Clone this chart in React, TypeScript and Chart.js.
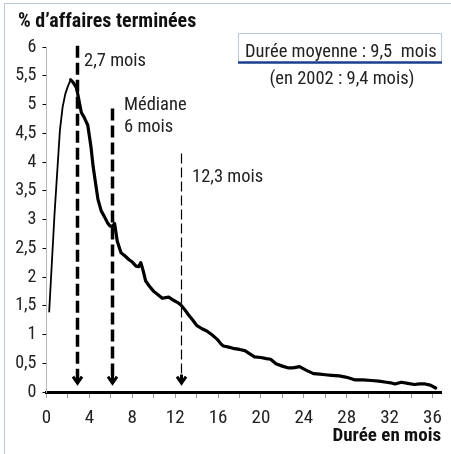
import React, { useEffect, useRef } from "react";
import { Chart, registerables } from "chart.js";

Chart.register(...registerables);

// Durée (mois) et % d'affaires terminées
const months: number[] = [
  0.25, 0.75, 1.25, 1.5, 1.75, 2.0, 2.25, 2.5, 2.8, 3.0, 3.25, 3.5, 3.85, 4.15, 4.35, 4.6, 4.8,
  5.1, 5.4, 5.7, 5.9, 6.15, 6.35, 6.6, 6.95, 7.3, 7.7, 8.0, 8.35, 8.6, 8.8, 9.0, 9.25, 9.6,
  10.0, 10.4, 10.8, 11.1, 11.4, 11.8, 12.2, 12.5, 12.9, 13.25, 13.6, 14.0, 14.5, 14.95, 15.4,
  15.9, 16.3, 16.5, 17.0, 17.4, 18.0, 18.5, 19.0, 19.4, 20.0, 20.5, 20.9, 21.4, 22.0, 22.5,
  23.0, 23.6, 24.2, 24.9, 25.5, 26.0, 26.6, 27.3, 27.9, 28.3, 28.8, 29.5, 30.3, 31.0, 31.7,
  32.1, 32.5, 33.1, 33.7, 34.3, 34.8, 35.3, 35.8, 36.3,
];
const shares: number[] = [
  1.4, 3.1, 4.55, 4.95, 5.18, 5.32, 5.43, 5.38, 5.29, 5.1, 4.86, 4.78, 4.64, 4.26, 3.92, 3.6, 3.35,
  3.15, 3.05, 2.94, 2.89, 2.88, 2.93, 2.62, 2.42, 2.37, 2.3, 2.26, 2.19, 2.18, 2.25, 2.12, 1.93, 1.84,
  1.75, 1.69, 1.63, 1.64, 1.65, 1.6, 1.56, 1.52, 1.43, 1.34, 1.26, 1.16, 1.1, 1.06, 1.0,
  0.92, 0.83, 0.8, 0.78, 0.76, 0.74, 0.72, 0.66, 0.61, 0.6, 0.58, 0.57, 0.49, 0.45, 0.42,
  0.42, 0.44, 0.38, 0.32, 0.31, 0.3, 0.29, 0.28, 0.26, 0.24, 0.21, 0.21, 0.2, 0.19, 0.17,
  0.16, 0.14, 0.17, 0.15, 0.13, 0.14, 0.14, 0.12, 0.07,
];

// Repères (mode, médiane, 3e quartile) en mois et hauteur du haut du trait
const markerMonths: number[] = [2.86, 6.12, 12.57];
const markerTops: number[] = [6.02, 4.93, 4.15];
const markerLabels: string[][] = [["2,7 mois"], ["Médiane", "6 mois"], ["12,3 mois"]];
const arrowTip = 0.13;

const yTicks: number[] = [0, 0.5, 1, 1.5, 2, 2.5, 3, 3.5, 4, 4.5, 5, 5.5, 6];
const xLabelStep = 4;

const titleText = "% d’affaires terminées";
const xTitleText = "Durée en mois";
const meanText = "Durée moyenne : 9,5  mois";
const prevMeanText = "(en 2002 : 9,4 mois)";

const FONT = "'Roboto Condensed', 'Open Sans', sans-serif";

const annotationPlugin = {
  id: "annotations",
  afterDatasetsDraw(chart: any) {
    const { ctx } = chart;
    const xs = chart.scales.x;
    const ys = chart.scales.y;
    ctx.save();

    // dashed marker lines with arrowheads
    const widths = [3.5, 3.5, 1.2];
    const dashes = [[12, 5], [12, 5], [10, 4]];
    markerMonths.forEach((m, i) => {
      const px = Math.round(xs.getPixelForValue(m)) + 0.5;
      const top = ys.getPixelForValue(markerTops[i]);
      const tip = ys.getPixelForValue(arrowTip);
      ctx.strokeStyle = "#000";
      ctx.lineWidth = widths[i];
      ctx.setLineDash(dashes[i]);
      ctx.beginPath();
      ctx.moveTo(px, top);
      ctx.lineTo(px, tip - 2);
      ctx.stroke();
      ctx.setLineDash([]);
      ctx.lineWidth = 3;
      ctx.beginPath();
      ctx.moveTo(px, tip - 10);
      ctx.lineTo(px, tip - 1);
      ctx.stroke();
      ctx.lineJoin = "miter";
      ctx.beginPath();
      ctx.moveTo(px - 4.5, tip - 8);
      ctx.lineTo(px, tip - 1.5);
      ctx.lineTo(px + 4.5, tip - 8);
      ctx.stroke();
    });

    // marker labels
    ctx.fillStyle = "#222";
    ctx.font = `18.5px ${FONT}`;
    ctx.textAlign = "left";
    ctx.textBaseline = "alphabetic";
    const labelPos = [
      [84, 66],
      [124, 110],
      [192, 182],
    ];
    markerLabels.forEach((lines, i) => {
      lines.forEach((t, j) => ctx.fillText(t, labelPos[i][0], labelPos[i][1] + j * 22));
    });

    // mean box
    ctx.strokeStyle = "#b8c8e2";
    ctx.lineWidth = 1;
    ctx.strokeRect(238.5, 33.5, 203, 29);
    ctx.strokeStyle = "#1a3f8c";
    ctx.lineWidth = 2.5;
    ctx.beginPath();
    ctx.moveTo(238, 62.5);
    ctx.lineTo(442, 62.5);
    ctx.stroke();
    ctx.fillStyle = "#222";
    ctx.font = `18.5px ${FONT}`;
    ctx.fillText(meanText, 245, 57);
    ctx.textAlign = "center";
    ctx.fillText(prevMeanText, 342, 84);

    // title
    ctx.textAlign = "left";
    ctx.fillStyle = "#111";
    ctx.font = `bold 20px ${FONT}`;
    ctx.fillText(titleText, 18, 27);
    ctx.restore();
  },
};

export default function App() {
  const ref = useRef<HTMLCanvasElement | null>(null);
  useEffect(() => {
    if (!ref.current) return;
    const chart = new Chart(ref.current, {
      type: "line",
      data: {
        datasets: [
          {
            data: months.map((m, i) => ({ x: m, y: shares[i] })),
            borderColor: "#000",
            borderWidth: 3.2,
            pointRadius: 0,
            tension: 0,
            borderJoinStyle: "round",
            borderCapStyle: "round",
            segment: {
              borderWidth: (c: any) => (c.p0DataIndex < 6 ? 1.8 : 3.2),
            },
          } as any,
        ],
      },
      options: {
        animation: false,
        responsive: false,
        devicePixelRatio: 1,
        layout: { padding: { top: 47, right: 6, left: 0, bottom: 0 } },
        plugins: { legend: { display: false }, tooltip: { enabled: false }, title: { display: false } },
        scales: {
          x: {
            type: "linear",
            min: 0,
            max: 36.8,
            afterFit: (s: any) => {
              s.height = 62;
            },
            border: { display: true, color: "#000", width: 3 },
            grid: { drawOnChartArea: false, drawTicks: true, tickLength: 6, color: "#9a9a9a" },
            ticks: {
              stepSize: 2,
              autoSkip: false,
              includeBounds: false,
              maxRotation: 0,
              padding: 9,
              color: "#222",
              font: { family: FONT, size: 19 },
              callback: (v: any) => (Number(v) % xLabelStep === 0 ? String(v) : ""),
            },
            title: {
              display: true,
              text: xTitleText,
              align: "end",
              color: "#111",
              font: { family: FONT, size: 19, weight: "bold" },
              padding: { top: 0, bottom: 6 },
            },
          },
          y: {
            min: 0,
            max: 6,
            afterFit: (s: any) => {
              s.width = 46.5;
            },
            afterBuildTicks: (s: any) => {
              s.ticks = yTicks.map((v) => ({ value: v }));
            },
            border: { display: true, color: "#b5b5b5", width: 1 },
            grid: { drawOnChartArea: false, drawTicks: true, tickLength: 4, color: "#000" },
            ticks: {
              padding: 6,
              color: "#222",
              font: { family: FONT, size: 18 },
              callback: (v: any) => String(v).replace(".", ","),
            },
          },
        },
      },
      plugins: [annotationPlugin],
    } as any);
    return () => chart.destroy();
  }, []);

  return (
    <div style={{ position: "fixed", left: 0, top: 0, width: 451, height: 454, background: "#fff" }}>
      <div
        style={{
          position: "absolute",
          left: 4,
          top: 3,
          width: 447,
          height: 451,
          borderLeft: "1px solid #b8c8e2",
          borderTop: "1px solid #b8c8e2",
          boxSizing: "border-box",
        }}
      />
      <canvas ref={ref} width={451} height={454} style={{ position: "absolute", left: 0, top: 0 }} />
    </div>
  );
}
